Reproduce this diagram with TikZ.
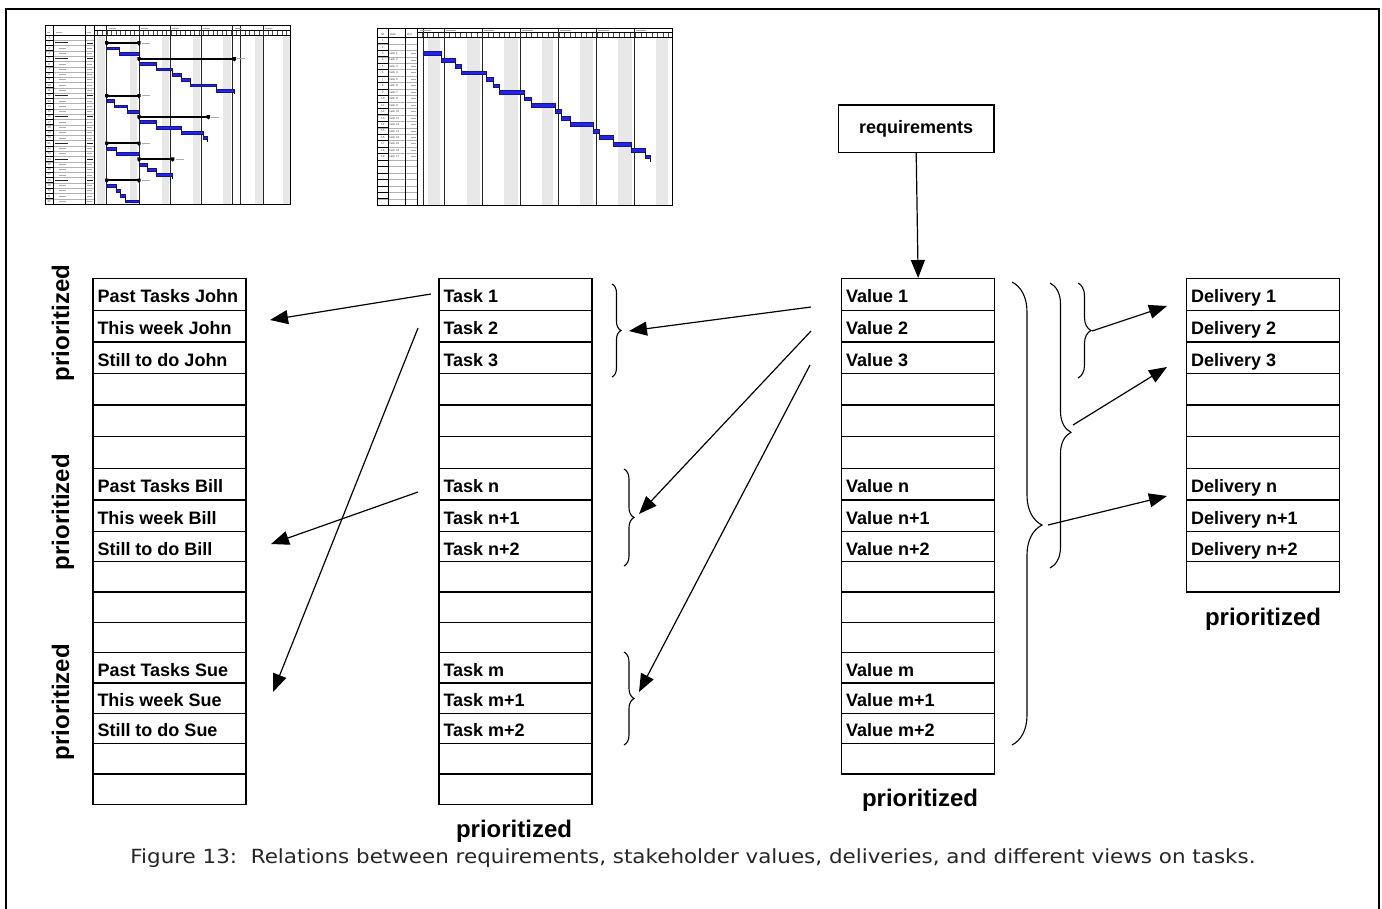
\documentclass[tikz,border=0pt]{standalone}
\usepackage{fontspec}
\setmainfont{Liberation Sans}
\newfontfamily\capfont[FakeStretch=1.1]{DejaVu Sans}
\usetikzlibrary{arrows.meta,decorations.pathreplacing,calc}

% one column of stacked rows: prefix, left x, labels
\newcommand\mkcolumn[3]{%
  \foreach \lab [count=\i] in {#3} {
    \pgfmathsetmacro\rtop{(\i<=8) ? 278+(\i-1)*31.6 : 530.8+(\i-9)*30.3}
    \pgfmathsetmacro\rht{(\i<=8) ? 31.6 : 30.3}
    \node[cell, minimum height=\rht pt] (#1\i) at (#2,\rtop) {};
    \node[celltext] at ($(#1\i.west)+(5,8.5)$) {\lab};
  }}

\begin{document}
\begin{tikzpicture}[x=1pt,y=-1pt,
  cell/.style={draw, line width=1.3pt, minimum width=153pt, inner sep=0pt, anchor=north west},
  celltext/.style={anchor=base west, inner sep=0pt, font=\fontsize{18}{20}\selectfont\bfseries},
  prio/.style={font=\fontsize{24}{26}\selectfont\bfseries, inner sep=0pt},
  arr/.style={line width=1.2pt, -{Triangle[length=18pt,width=14pt]}},
  brc/.style={line width=1.1pt, decorate},
  gbar/.style={fill={rgb,255:red,35;green,35;blue,235}, draw={rgb,255:red,20;green,20;blue,140}, line width=0.5pt},
  ghost/.style={draw=gray!65, line width=0.9pt},
  tiny/.style={font=\fontsize{3}{3}\selectfont, text=gray!60!black, inner sep=0pt},
  grid/.style={draw=gray!60, line width=0.35pt}
]
\useasboundingbox (0,0) rectangle (1382,908);
\fill[white] (0,0) rectangle (1382,908);

% outer frame
\draw[line width=1.8pt] (5.7,912) -- (5.7,9.3) -- (1379.3,9.3) -- (1379.3,912);

%================ small Gantt chart, left =================
\begin{scope}
  \foreach \a/\b in {96.7/105,130/137.3,161.7/169.3,192.7/200,223.3/230.7,255/262.7,283/290}
    \fill[gray!18] (\a,35) rectangle (\b,204);
  \foreach \r in {1,...,31} {
    \draw[grid] (45,35+\r*5.28) -- (94,35+\r*5.28);
    \draw[line width=0.7pt] (45,35+\r*5.28) -- (53.3,35+\r*5.28);
  }
  \foreach \r in {1,...,32}
    \node[tiny] at (49.2,35+\r*5.28-2.64) {\r};
  \foreach \x in {53.3,85} \draw[line width=0.6pt] (\x,25.7) -- (\x,204);
  \draw[line width=1pt] (94,25.7) -- (94,204);
  \draw[line width=0.5pt] (94,30) -- (290,30);
  \draw[line width=1pt] (45,35) -- (290,35);
  \foreach \k in {-2,...,39} \draw[gray!60!black, line width=0.35pt] (106.7+\k*4.61,30.5) -- (106.7+\k*4.61,35);
  \foreach \x in {106.7,139,170,201,232.3,240.3,263.3}
    \draw[line width=0.9pt, gray!30!black] (\x,25.7) -- (\x,204);
  \foreach \x in {108,140,171,202,234,264} \draw[ghost, line width=0.6pt] (\x+1,27.8) -- (\x+8,27.8);
  \draw[ghost,line width=0.6pt] (47,32) -- (50,32) (56,32) -- (62,32) (87,32) -- (91,32);
  % name / duration text of the rows
  \foreach \r in {2,5,12,16,21,24,28} {
    \draw[ghost, draw=gray!30!black, line width=0.9pt] (54.5,35+\r*5.28-2.64) -- (68,35+\r*5.28-2.64);
    \draw[ghost, draw=gray!30!black, line width=0.8pt] (87,35+\r*5.28-2.64) -- (92.5,35+\r*5.28-2.64);
  }
  \foreach \r in {3,4,6,7,8,9,10,11,13,14,15,17,18,19,20,22,23,25,26,27,29,30,31,32} {
    \draw[ghost, line width=0.8pt] (59,35+\r*5.28-2.64) -- (66,35+\r*5.28-2.64);
    \draw[ghost, line width=0.8pt] (87,35+\r*5.28-2.64) -- (92,35+\r*5.28-2.64);
  }
  % summary bars
  \foreach \r/\a/\b in {2/106.7/139,5/139/234.3,12/106.7/139,16/139/208.3,21/106.7/139,24/139/172.7,28/106.7/139} {
    \pgfmathsetmacro\yy{35+\r*5.28-2.64}
    \fill (\a,\yy-1.1) rectangle (\b,\yy+1.1);
    \fill (\a-1.7,\yy-1.7) -- (\a+1.7,\yy-1.7) -- (\a+1.7,\yy+1) -- (\a,\yy+2.7) -- (\a-1.7,\yy+1) -- cycle;
    \fill (\b-1.7,\yy-1.7) -- (\b+1.7,\yy-1.7) -- (\b+1.7,\yy+1) -- (\b,\yy+2.7) -- (\b-1.7,\yy+1) -- cycle;
    \draw[ghost, line width=0.6pt] (\b+3,\yy) -- (\b+11,\yy);
  }
  % task bars
  \foreach \r/\a/\b in {3/107.7/119,4/119/139,6/139/156.7,7/156.7/172.7,8/172.7/181.3,9/181.3/190,10/190/216.7,11/216.7/234.3,13/107.7/114.3,14/114.3/127.7,15/127.7/139,17/139/156.7,18/156.7/181.7,19/181.7/203.3,20/203.3/207.7,22/107.7/116.7,23/116.7/139,25/139/147.3,26/147.3/156.7,27/156.7/172.3,29/107.7/116,30/116/120,31/120/125.7,32/125.7/139} {
    \pgfmathsetmacro\yy{35+\r*5.28-2.64}
    \draw[gbar] (\a,\yy-1.4) rectangle (\b,\yy+1.4);
    \draw[line width=0.5pt, blue!40!black] (\b,\yy+1.4) -- (\b,\yy+4);
  }
  \draw[line width=1pt] (45,25.7) rectangle (290,204);
\end{scope}

%================ small Gantt chart, middle =================
\begin{scope}
  \foreach \a/\b in {428.3/440,466.7/480,504.3/518.3,542.3/553.3,580/592.7,618.3/631.7,656/668.3}
    \fill[gray!18] (\a,37.3) rectangle (\b,205.3);
  \foreach \r in {1,...,25} {
    \draw[grid] (377.3,37.3+\r*6.46) -- (417.7,37.3+\r*6.46);
    \draw[line width=0.7pt] (377.3,37.3+\r*6.46) -- (388.3,37.3+\r*6.46);
  }
  \foreach \r in {20,22,24} \draw[line width=1.2pt] (377.3,37.3+\r*6.46) -- (388.3,37.3+\r*6.46);
  \foreach \r in {1,...,19}
    \node[tiny] at (382.8,37.3+\r*6.46-3.23) {\r};
  \foreach \r [evaluate=\r as \n using int(\r-2)] in {3,...,19} {
    \node[tiny, anchor=west] at (389.5,37.3+\r*6.46-3.23) {task \n};
    \draw[ghost, line width=0.8pt] (411,37.3+\r*6.46-3.23) -- (416,37.3+\r*6.46-3.23);
  }
  \node[tiny] at (382.8,34.8) {ID};
  \node[tiny, anchor=west] at (389.5,34.8) {Task};
  \node[tiny, anchor=west] at (407,34.8) {Dur};
  \foreach \x in {388.3,405.7} \draw[line width=0.6pt] (\x,28.3) -- (\x,205.3);
  \draw[line width=1pt] (417.7,28.3) -- (417.7,205.3);
  \draw[line width=0.5pt] (417.7,32.3) -- (672.7,32.3);
  \draw[line width=1pt] (377.3,37.3) -- (672.7,37.3);
  \foreach \k in {-4,...,41} \draw[gray!60!black, line width=0.35pt] (444+\k*5.47,32.8) -- (444+\k*5.47,37.3);
  \draw[line width=0.6pt, gray!30!black] (423.3,28.3) -- (423.3,205.3);
  \foreach \x in {444,482.3,520.7,558.7,596.7,634.3}
    \draw[line width=0.9pt, gray!30!black] (\x,28.3) -- (\x,205.3);
  \foreach \x in {418.5,444,482.3,520.7,558.7,596.7,634.3} \draw[ghost, line width=0.6pt] (\x+1.5,30.3) -- (\x+12,30.3);
  \foreach \r/\a/\b in {3/423.3/441.7,4/441.7/455.7,5/455.7/461,6/461/486.7,7/486.7/493.3,8/493.3/499.3,9/499.3/524,10/524/531.7,11/531.7/555.7,12/555.7/561.7,13/561.7/570,14/570/593.3,15/593.3/599.3,16/599.3/613.3,17/613.3/631.7,18/631.7/645.3,19/645.3/650.7} {
    \pgfmathsetmacro\yy{37.3+\r*6.46-3.23}
    \draw[gbar] (\a,\yy-1.9) rectangle (\b,\yy+1.9);
    \draw[line width=0.6pt, blue!40!black] (\b,\yy+1.9) -- (\b,\yy+4.7);
  }
  \draw[line width=1pt] (377.3,28.3) rectangle (672.7,205.3);
\end{scope}

%================ requirements =================
\node[draw, line width=1.3pt, minimum width=155.7pt, minimum height=47.3pt, inner sep=0pt,
      font=\fontsize{18}{20}\selectfont\bfseries] (req) at (916.2,128.7) {requirements};

%================ the four columns =================
\mkcolumn{p}{92.3}{Past Tasks John,This week John,Still to do John,,,,Past Tasks Bill,This week Bill,Still to do Bill,,,,Past Tasks Sue,This week Sue,Still to do Sue,,}
\mkcolumn{t}{438.3}{Task 1,Task 2,Task 3,,,,Task n,Task n+1,Task n+2,,,,Task m,Task m+1,Task m+2,,}
\mkcolumn{v}{841}{Value 1,Value 2,Value 3,,,,Value n,Value n+1,Value n+2,,,,Value m,Value m+1,Value m+2,}
\mkcolumn{d}{1186}{Delivery 1,Delivery 2,Delivery 3,,,,Delivery n,Delivery n+1,Delivery n+2,}

%================ labels =================
\node[prio, rotate=90] at (63,323) {prioritized};
\node[prio, rotate=90] at (63,512) {prioritized};
\node[prio, rotate=90] at (63,702) {prioritized};
\node[prio] at (514,831) {prioritized};
\node[prio] at (920,800) {prioritized};
\node[prio] at (1263,619) {prioritized};

%================ braces =================
\draw[brc, decoration={brace, amplitude=9pt}] (612,284) -- (612,377);
\draw[brc, decoration={brace, amplitude=10pt}] (624,469) -- (624,566);
\draw[brc, decoration={brace, amplitude=10pt}] (624,652) -- (624,745);
\draw[brc, decoration={brace, amplitude=13pt}] (1078,283) -- (1078,378);
\draw[brc, decoration={brace, amplitude=21pt, aspect=0.524}] (1050,283) -- (1050,568);
\draw[brc, decoration={brace, amplitude=30pt, aspect=0.525}] (1012,282) -- (1012,745);

%================ connector end points =================
\coordinate (s1) at (431,294);
\coordinate (e1) at (270,320);
\coordinate (s2) at (418,492);
\coordinate (e2) at (271,544);
\coordinate (s3) at (418,328);
\coordinate (e3) at (273,692);
\coordinate (s4) at (811,307);
\coordinate (e4) at (629,331);
\coordinate (s5) at (811,331);
\coordinate (e5) at (639,514);
\coordinate (s6) at (810,365);
\coordinate (e6) at (639,692);
\coordinate (s7) at (1092,331);
\coordinate (e7) at (1167,306);
\coordinate (s8) at (1073,425);
\coordinate (e8) at (1167,367);
\coordinate (s9) at (1048,525);
\coordinate (e9) at (1167,496);

%================ connectors =================
\draw[arr] (req.south) -- (v1.north);
\foreach \k in {1,...,9} \draw[arr] (s\k) -- (e\k);

%================ caption =================
\node[font=\capfont\fontsize{19.5}{21}\selectfont, inner sep=0pt, text=black!85] (cap) at (693,858)
  {Figure 13:\ \ Relations between requirements, stakeholder values, deliveries, and different views on tasks.};
\end{tikzpicture}
\end{document}
